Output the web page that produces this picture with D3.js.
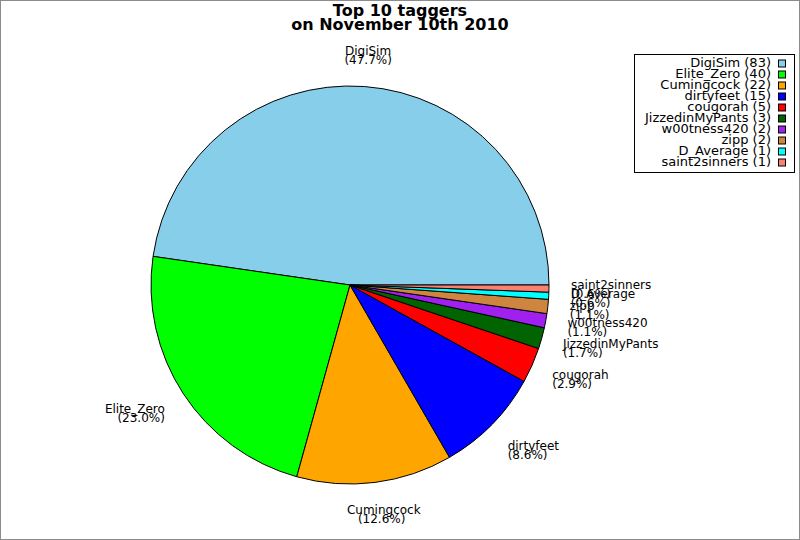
<!doctype html>
<html lang="en">
    <head>
        <meta charset="utf-8">
        <title>Top 10 taggers</title>
        <script type="text/javascript" src="https://cdn.jsdelivr.net/npm/d3@7"></script>
        <style>
            body { margin: 0; background: #fff; }
            text { font-family: "DejaVu Sans", sans-serif; }
        </style>
    </head>
    <body>
        <script type="text/javascript">
            var names = ["DigiSim", "Elite_Zero", "Cumingcock", "dirtyfeet", "cougorah",
                         "JizzedinMyPants", "w00tness420", "zipp", "D_Average", "saint2sinners"];
            var counts = [83, 40, 22, 15, 5, 3, 2, 2, 1, 1];
            var colors = ["#87ceeb", "#00ff00", "#ffa500", "#0000ff", "#ff0000",
                          "#006400", "#a020f0", "#cd853f", "#00ffff", "#fa8072"];
            var titleLines = ["Top 10 taggers", "on November 10th 2010"];

            var svgW = 800, svgH = 540;
            var cx = 350, cy = 285, r = 199;
            var labelR = 221, labelH = 20;

            var data = names.map((n, i) => ({name: n, value: counts[i], color: colors[i]}));
            var total = d3.sum(counts);
            var fmt = d3.format(".1f");

            var svg = d3.select("body")
                        .append("svg")
                        .attr("width", svgW)
                        .attr("height", svgH);

            svg.append("rect")
               .attr("x", 0.5).attr("y", 0.5)
               .attr("width", svgW - 1).attr("height", svgH - 1)
               .attr("fill", "#fff")
               .attr("stroke", "#8c8c8c");

            // title
            svg.selectAll(".title")
               .data(titleLines)
               .enter()
               .append("text")
               .attr("class", "title")
               .attr("x", 400)
               .attr("y", (d, i) => 16 + i * 14)
               .attr("text-anchor", "middle")
               .attr("font-size", "16px")
               .attr("font-weight", "bold")
               .text(d => d);

            // pie starts at 3 o'clock and runs counter-clockwise
            var pie = d3.pie()
                        .value(d => d.value)
                        .sort(null)
                        .startAngle(Math.PI / 2)
                        .endAngle(Math.PI / 2 - 2 * Math.PI);

            var arc = d3.arc().innerRadius(0).outerRadius(r);
            var arcs = pie(data);

            var g = svg.append("g").attr("transform", "translate(" + cx + "," + cy + ")");
            g.selectAll("path")
             .data(arcs)
             .enter()
             .append("path")
             .attr("d", arc)
             .attr("fill", d => d.data.color)
             .attr("stroke", "#000")
             .attr("stroke-width", 1);

            // labels
            var P = Math.PI;
            arcs.forEach(function(d) {
                var a = P / 2 - (d.startAngle + d.endAngle) / 2;
                a = ((a % (2 * P)) + 2 * P) % (2 * P);
                var xt = cx + labelR * Math.cos(a);
                var yt = cy - labelR * Math.sin(a);
                var dx, dy;
                if (a <= P / 4) { dx = 0; dy = 0.5 + a * 2 / P; }
                else if (a <= 3 * P / 4) { dx = (a - P / 4) * 2 / P; dy = 1; }
                else if (a <= 5 * P / 4) { dx = 1; dy = 1 - (a - 3 * P / 4) * 2 / P; }
                else if (a <= 7 * P / 4) { dx = 1 - (a - 5 * P / 4) * 2 / P; dy = 0; }
                else { dx = 0; dy = (a - 7 * P / 4) * 2 / P; }
                var top = yt - dy * labelH;
                var lines = [d.data.name, "(" + fmt(d.data.value / total * 100) + "%)"];
                lines.forEach(function(s, i) {
                    var t = svg.append("text")
                               .attr("font-size", "12px")
                               .attr("y", top + 10 + i * 9)
                               .text(s);
                    var w = t.node().getComputedTextLength();
                    t.attr("x", xt - dx * w);
                });
            });

            // legend
            var legend = svg.append("g");
            legend.append("rect")
                  .attr("x", 634.5).attr("y", 54.5)
                  .attr("width", 160).attr("height", 118)
                  .attr("fill", "#fff")
                  .attr("stroke", "#000");

            var rows = legend.selectAll(".row")
                             .data(data)
                             .enter()
                             .append("g")
                             .attr("class", "row")
                             .attr("transform", (d, i) => "translate(0," + (66.5 + i * 11) + ")");
            rows.append("text")
                .attr("x", 771)
                .attr("y", 0)
                .attr("text-anchor", "end")
                .attr("font-size", "13px")
                .text(d => d.name + " (" + d.value + ")");
            rows.append("rect")
                .attr("x", 778.5).attr("y", -6.5)
                .attr("width", 7).attr("height", 7)
                .attr("fill", d => d.color)
                .attr("stroke", "#000");
        </script>
    </body>
</html>
